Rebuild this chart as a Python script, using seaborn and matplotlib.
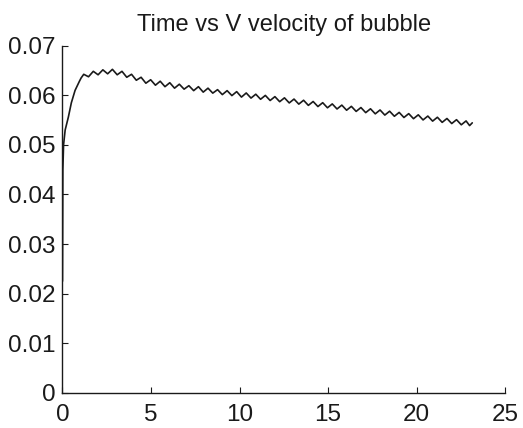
import seaborn as sns
import matplotlib
matplotlib.use("Agg")
import matplotlib.pyplot as plt
import pandas as pd

# values
time = [0.0, 0.02, 0.06, 0.15, 0.33, 0.50, 0.71, 0.95, 1.05,
        1.20, 1.47, 1.74, 2.01, 2.28, 2.55, 2.82, 3.09, 3.36, 3.63,
        3.90, 4.17, 4.44, 4.71, 4.98, 5.25, 5.52, 5.79, 6.06, 6.33,
        6.60, 6.87, 7.14, 7.41, 7.68, 7.95, 8.22, 8.49, 8.76, 9.03,
        9.30, 9.57, 9.84, 10.11, 10.38, 10.65, 10.92, 11.19, 11.46, 11.73,
        12.00, 12.27, 12.54, 12.81, 13.08, 13.35, 13.62, 13.89, 14.16, 14.43,
        14.70, 14.97, 15.24, 15.51, 15.78, 16.05, 16.32, 16.59, 16.86, 17.13,
        17.40, 17.67, 17.94, 18.21, 18.48, 18.75, 19.02, 19.29, 19.56, 19.83,
        20.10, 20.37, 20.64, 20.91, 21.18, 21.45, 21.72, 21.99, 22.26, 22.53,
        22.80, 23.00, 23.15]
v_velocity = [0.0225, 0.0450, 0.0500, 0.0530, 0.0556, 0.0585, 0.0610, 0.0628, 0.0635,
              0.06425, 0.06375, 0.06485, 0.06415, 0.06515, 0.06435, 0.06525, 0.06415, 0.06485, 0.06365,
              0.06425, 0.06305, 0.06365, 0.06245, 0.06315, 0.06205, 0.06285, 0.06175, 0.06255, 0.06145,
              0.06225, 0.06125, 0.06195, 0.06095, 0.06175, 0.06065, 0.06145, 0.06045, 0.06115, 0.06015,
              0.06095, 0.05995, 0.06075, 0.05965, 0.06048, 0.05945, 0.06023, 0.05921, 0.05999, 0.05896,
              0.05974, 0.05872, 0.05950, 0.05847, 0.05925, 0.05823, 0.05901, 0.05798, 0.05876, 0.05774,
              0.05852, 0.05749, 0.05827, 0.05725, 0.05803, 0.05700, 0.05778, 0.05676, 0.05754, 0.05651,
              0.05729, 0.05627, 0.05705, 0.05602, 0.05680, 0.05578, 0.05656, 0.05553, 0.05631, 0.05529,
              0.05607, 0.05504, 0.05582, 0.05480, 0.05558, 0.05455, 0.05533, 0.05431, 0.05509, 0.05406,
              0.05484, 0.05390, 0.05445]

x_ticks = [0, 5, 10, 15, 20, 25]
y_ticks = [0, 0.01, 0.02, 0.03, 0.04, 0.05, 0.06, 0.07]
y_tick_labels = ['0', '0.01', '0.02', '0.03', '0.04', '0.05', '0.06', '0.07']

sns.set_theme(style="ticks")
plt.rcParams['font.family'] = ['Liberation Sans', 'DejaVu Sans']

df = pd.DataFrame({'time': time, 'v': v_velocity})

fig = plt.figure(figsize=(5.23, 4.28), dpi=100)
ax = fig.add_axes([0.1195, 0.0825, 0.8461, 0.8105])
sns.lineplot(data=df, x='time', y='v', ax=ax, sort=False, estimator=None,
             color='#1a1a1a', linewidth=1.2)

ax.set_xlim(0, 25)
ax.set_ylim(0, 0.07)
ax.set_xticks(x_ticks)
ax.set_xticklabels([str(t) for t in x_ticks])
ax.set_yticks(y_ticks)
ax.set_yticklabels(y_tick_labels)
ax.tick_params(direction='in', length=4, width=0.8, colors='#1a1a1a',
               labelsize=17.5, labelcolor='#1a1a1a')
ax.tick_params(axis='x', pad=8)
ax.tick_params(axis='y', pad=5)
ax.set_xlabel('')
ax.set_ylabel('')
sns.despine(ax=ax)
for s in ['left', 'bottom']:
    ax.spines[s].set_color('#1a1a1a')
    ax.spines[s].set_linewidth(1.0)
ax.set_title('Time vs V velocity of bubble', fontsize=17, color='#1a1a1a', pad=11)

fig.savefig('out.png', dpi=100)
